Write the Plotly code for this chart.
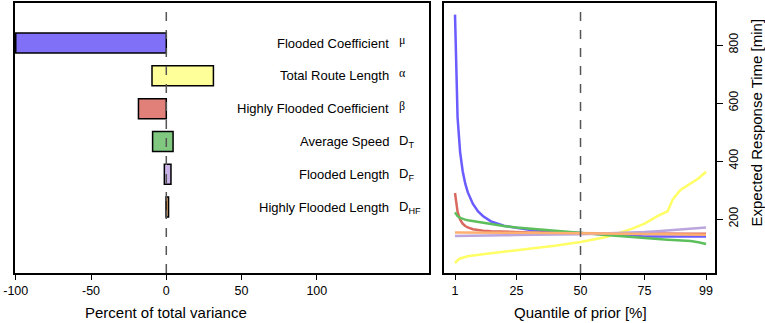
import plotly.graph_objects as go

# ---------------- data ----------------
params = ["Flooded Coefficient", "Total Route Length", "Highly Flooded Coefficient",
          "Average Speed", "Flooded Length", "Highly Flooded Length"]
symbols = ["μ", "α", "β", "D<sub>T</sub>", "D<sub>F</sub>", "D<sub>HF</sub>"]
bar_low = [-100.0, -9.5, -18.5, -9.1, -1.3, -0.2]
bar_high = [0.0, 31.3, 0.0, 4.5, 3.1, 1.5]
bar_colors = ["#8070f7", "#ffff99", "#e08078", "#80c880", "#c9b3e8", "#e0a466"]
line_colors = ["#6a5cff", "#ffff66", "#d9685f", "#5cbf5c", "#bba5dc", "#ffb070"]

var_ticks = [-100, -50, 0, 50, 100]
var_ticktext = ["-100", "-50", "0", "50", "100"]
q_ticks = [1, 25, 50, 75, 99]
rt_ticks = [200, 400, 600, 800]

quantile = [1, 2, 3, 4, 5, 6, 8, 10, 12, 15, 20, 25, 30, 40, 50, 60, 65, 70, 75, 80,
            84, 86, 89, 93, 96, 99]
rt_mu = [905, 550, 430, 365, 322, 292, 252, 226, 210, 192, 177, 169, 163, 156, 151,
         146, 143, 141, 140, 140, 140, 140, 140, 140, 140, 140]
rt_alpha = [48, 58, 64, 67, 70, 72, 74, 77, 79, 82, 87, 93, 98, 108, 121, 138, 152,
            166, 184, 210, 227, 268, 300, 322, 340, 363]
rt_beta = [290, 225, 198, 184, 176, 171, 165, 162, 160, 158, 156, 155, 154, 152, 151,
           150, 150, 150, 150, 149, 149, 149, 149, 149, 149, 149]
rt_dt = [223, 210, 204, 200, 198, 196, 193, 189, 186, 182, 176, 171, 167, 159, 152,
         145, 142, 138, 134, 131, 129, 128, 127, 124, 120, 114]
rt_df = [142, 142, 142, 142, 142, 142, 142, 142, 143, 143, 144, 145, 145, 147, 148,
         150, 151, 153, 155, 158, 161, 163, 165, 168, 170, 171]
rt_dhf = [154, 154, 154, 154, 154, 154, 154, 154, 154, 153, 153, 153, 152, 152, 151,
          150, 149, 149, 148, 148, 147, 147, 147, 146, 146, 146]

# ---------------- layout helpers ----------------
W, H = 765, 323
def px(x):
    return x / W
def py(y):
    return 1 - y / H

FONT = "Arial, Liberation Sans, sans-serif"
positions = list(range(1, len(params) + 1))

fig = go.Figure()

fig.add_trace(go.Bar(
    orientation="h",
    y=positions,
    x=[h - l for l, h in zip(bar_low, bar_high)],
    base=bar_low,
    width=0.61,
    marker=dict(color=bar_colors, line=dict(color="black", width=1.5)),
    xaxis="x", yaxis="y", showlegend=False, hoverinfo="skip",
))

series = [rt_alpha, rt_mu, rt_beta, rt_dt, rt_df, rt_dhf]
cols = [line_colors[1], line_colors[0], line_colors[2], line_colors[3], line_colors[4], line_colors[5]]
for vals, c in zip(series, cols):
    fig.add_trace(go.Scatter(
        x=quantile, y=vals, mode="lines",
        line=dict(color=c, width=2.5),
        xaxis="x2", yaxis="y2", showlegend=False, hoverinfo="skip",
    ))

axis_common = dict(showline=True, linecolor="black", linewidth=1.5, mirror=True,
                   showgrid=False, zeroline=False, ticks="outside",
                   tickwidth=1.2, tickcolor="black", automargin=False,
                   tickfont=dict(family=FONT, size=12.5, color="black"))

fig.update_layout(
    width=W, height=H, autosize=False,
    margin=dict(l=0, r=0, t=0, b=0, pad=0),
    paper_bgcolor="white", plot_bgcolor="white",
    font=dict(family=FONT, color="black"),
    xaxis=dict(domain=[px(15), px(429)], range=[-100.5, 174.5], ticklen=5,
               tickvals=var_ticks, ticktext=var_ticktext, anchor="y", **axis_common),
    yaxis=dict(domain=[py(273), py(3)], range=[8.01, -0.22],
               showline=True, linecolor="black", linewidth=1.5, mirror=True,
               showgrid=False, zeroline=False, showticklabels=False, ticks="",
               automargin=False, anchor="x"),
    xaxis2=dict(domain=[px(444), px(715)], range=[-3.3, 102.5], ticklen=5,
                tickvals=q_ticks, anchor="y2", **axis_common),
    yaxis2=dict(domain=[py(273), py(3)], range=[14, 945], side="right", ticklen=6,
                tickvals=rt_ticks, tickangle=-90, anchor="x2", **axis_common),
)

# dashed reference lines
fig.add_shape(type="line", xref="x", yref="y domain", x0=0, x1=0, y0=0, y1=1,
              line=dict(color="#555555", width=1.5, dash="dash"))
fig.add_shape(type="line", xref="x2", yref="y2 domain", x0=50, x1=50, y0=0, y1=1,
              line=dict(color="#555555", width=1.5, dash="dash"))

# parameter labels and symbols
for p, name, sym in zip(positions, params, symbols):
    fig.add_annotation(x=px(391), xref="paper", y=p, yref="y", text=name,
                       showarrow=False, xanchor="right", yanchor="middle",
                       font=dict(family=FONT, size=13, color="black"))
    greek = not sym.startswith("D")
    fig.add_annotation(x=px(397), xref="paper", y=p, yref="y", text=sym,
                       showarrow=False, xanchor="left",
                       yanchor="middle", yshift=3 if greek else 0,
                       font=dict(family="Liberation Serif, Times New Roman, serif" if greek else FONT,
                                 size=12 if greek else 13, color="black"))

# axis titles
fig.add_annotation(x=px(166), y=py(312), xref="paper", yref="paper",
                   text="Percent of total variance", showarrow=False,
                   xanchor="center", yanchor="middle",
                   font=dict(family=FONT, size=15, color="black"))
fig.add_annotation(x=px(580), y=py(312), xref="paper", yref="paper",
                   text="Quantile of prior [%]", showarrow=False,
                   xanchor="center", yanchor="middle",
                   font=dict(family=FONT, size=15, color="black"))
fig.add_annotation(x=px(756), y=py(122.5), xref="paper", yref="paper",
                   text="Expected Response Time [min]", showarrow=False,
                   textangle=-90, xanchor="center", yanchor="middle",
                   font=dict(family=FONT, size=15, color="black"))

fig.write_html("out.html",
               config={"displayModeBar": False},
               post_script="document.body.style.margin='0';document.body.style.overflow='hidden';")
